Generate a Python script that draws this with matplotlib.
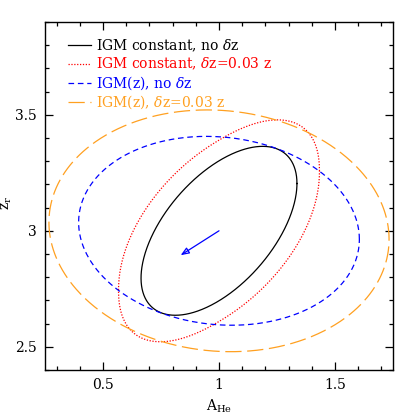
import numpy as np
import matplotlib
matplotlib.use('Agg')
import matplotlib.pyplot as plt
from matplotlib.ticker import MultipleLocator

plt.rcParams['font.family'] = ['DejaVu Serif']
plt.rcParams['mathtext.fontset'] = 'dejavuserif'

# contour parameters: centre, half extents, tilt (correlation), squareness
labels = [r'IGM constant, no $\delta$z', r'IGM constant, $\delta$z=0.03 z',
          r'IGM(z), no $\delta$z', r'IGM(z), $\delta$z=0.03 z']
cen_x = [1.00, 1.00, 1.00, 1.00]
cen_y = [3.00, 3.00, 3.00, 3.00]
half_x = [0.336, 0.433, 0.605, 0.733]
half_y = [0.364, 0.468, 0.407, 0.521]
rho = [0.56, 0.55, -0.09, -0.07]
power = [2.0, 2.15, 2.0, 2.0]
colors = ['black', '#ff0000', '#0000ff', '#ffa020']
dashes = [None, (1.0, 1.3), (4.5, 3.0), (13.0, 4.5)]

arrow_from = (1.0, 3.0)
arrow_to = (0.835, 2.895)

fig = plt.figure(figsize=(4.15, 4.15), dpi=100)
ax = fig.add_axes([0.1084, 0.1084, 0.8386, 0.8386])

t = np.linspace(0, 2*np.pi, 721)
for i in range(4):
    e = 2.0/power[i]
    u = np.sign(np.cos(t))*np.abs(np.cos(t))**e
    v = np.sign(np.sin(t))*np.abs(np.sin(t))**e
    x = cen_x[i] + half_x[i]*u
    y = cen_y[i] + half_y[i]*(rho[i]*u + np.sqrt(1-rho[i]**2)*v)
    line, = ax.plot(x, y, color=colors[i], lw=0.9, label=labels[i])
    if dashes[i] is not None:
        line.set_dashes(dashes[i])

ax.annotate('', xy=arrow_to, xytext=arrow_from,
            arrowprops=dict(arrowstyle='-|>,head_length=0.5,head_width=0.2',
                            color='#0000ff', lw=0.9, fc='none', shrinkA=0, shrinkB=0))

ax.set_xlim(0.25, 1.75)
ax.set_ylim(2.4, 3.9)
ax.xaxis.set_major_locator(MultipleLocator(0.5))
ax.xaxis.set_minor_locator(MultipleLocator(0.1))
ax.yaxis.set_major_locator(MultipleLocator(0.5))
ax.yaxis.set_minor_locator(MultipleLocator(0.1))
ax.xaxis.set_major_formatter(lambda v, p: '%g' % v)
ax.yaxis.set_major_formatter(lambda v, p: '%g' % v)
ax.tick_params(which='both', direction='in', top=True, right=True, labelsize=10, width=0.9)
ax.tick_params(which='major', length=6, pad=6)
ax.tick_params(which='minor', length=3)
for s in ax.spines.values():
    s.set_linewidth(1.0)

ax.set_xlabel(r'A$_{\rm He}$', fontsize=10, labelpad=4)
ax.set_ylabel(r'z$_{\rm r}$', fontsize=10)
ax.yaxis.set_label_coords(-0.09, 0.48)

ax.legend(loc='upper left', frameon=False, labelcolor='linecolor', fontsize=10,
          handlelength=1.65, handletextpad=0.34, labelspacing=0.13,
          borderpad=0, borderaxespad=0, bbox_to_anchor=(0.066, 0.955))

fig.savefig('out.png', dpi=100)
